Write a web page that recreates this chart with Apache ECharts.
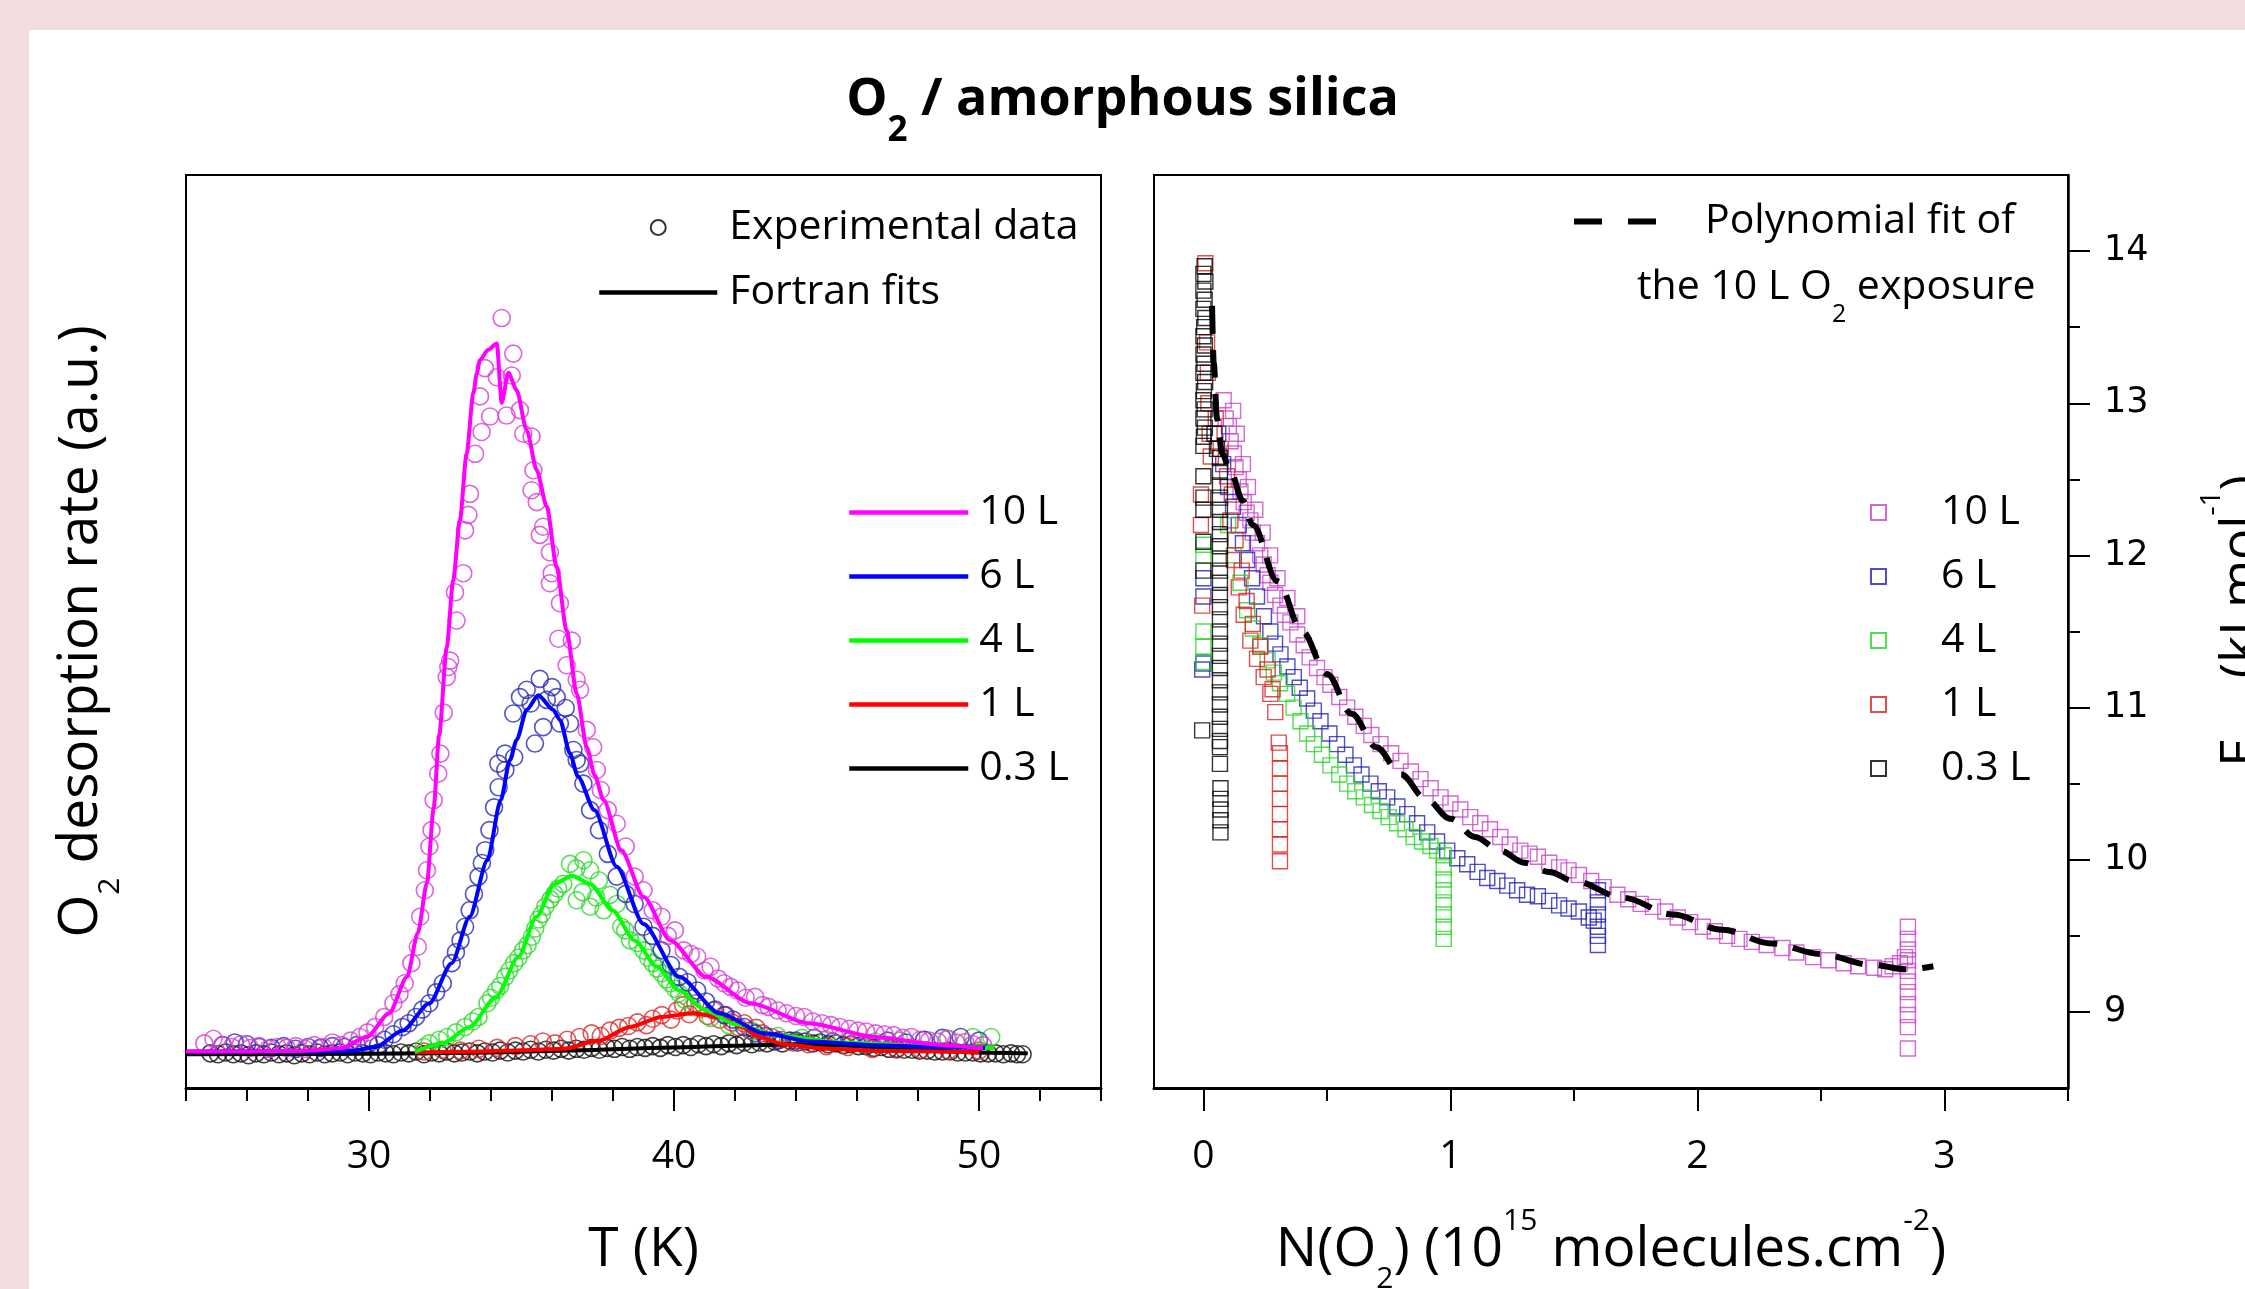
<!DOCTYPE html>
<html>
<head>
<meta charset="utf-8">
<script src="https://cdn.jsdelivr.net/npm/echarts@6.0.0/dist/echarts.min.js"></script>
<style>
  html, body { margin: 0; padding: 0; background: #f2dede; }
  #chart { width: 2245px; height: 1289px; }
</style>
</head>
<body>
<div id="chart"></div>
<script>
// ---- left panel: TPD traces, T (K) vs desorption rate (a.u., baseline = 0)
const fit10 = [[24.0,0.3],[26,0.3],[28,0.4],[29.05,0.65],[29.93,1.9],[30.66,4.5],[31.25,8.5],[31.6,13.3],[31.9,18.8],[32.12,27.0],[32.3,35.0],[32.55,44.7],[32.76,52],[32.98,58.6],[33.2,65.9],[33.42,72.5],[33.53,74.7],[33.64,76.2],[33.9,77.3],[34.19,78.0],[34.35,71.5],[34.57,74.8],[34.84,72.9],[35.17,68.5],[35.5,64.1],[35.83,60.1],[36.15,53.5],[36.48,46.5],[36.81,39.6],[37.14,33.7],[37.4,30.6],[37.69,27.9],[38.27,22.4],[39.0,17.3],[39.88,12.5],[41.05,8.5],[42.51,5.6],[44.42,3.4],[46.6,1.9],[48.8,1.0],[50.13,0.65]];
const fit6 = [[24.0,0.3],[28,0.3],[29.5,0.4],[30.22,0.8],[31.1,2.6],[31.98,5.6],[32.71,10],[33.3,15.1],[33.88,21.3],[34.32,27.9],[34.62,32.3],[34.84,34.5],[35.17,37.8],[35.55,39.4],[36.04,37.8],[36.26,36.7],[36.59,33],[36.85,30.5],[37.39,26.8],[38.12,20.6],[39.0,14.3],[40.17,8.5],[41.49,4.5],[42.95,2.3],[44.5,1.4],[46.5,1.0],[48.5,0.8],[50.2,0.7]];
const fit4 = [[31.5,0.25],[32.42,1.2],[33.3,3.0],[34.17,6.3],[34.9,10.7],[35.49,15.1],[36.08,18.7],[36.66,19.6],[37.25,18.7],[37.98,15.8],[38.71,12.5],[39.44,9.6],[40.17,7.0],[41.0,4.9],[42,3.3],[43.5,2.0],[45.5,1.3],[48,0.9],[50.5,0.7]];
const fit1 = [[31.5,0.2],[33.6,0.3],[35.0,0.45],[36.37,0.6],[37.54,1.5],[38.56,3.0],[39.59,4.1],[40.61,4.5],[41.49,4.1],[42.22,3.0],[42.8,1.9],[43.6,1.1],[45,0.6],[47,0.35],[50,0.2]];
const fit03 = [[24.0,0],[30,0.05],[34,0.2],[37,0.45],[40,0.75],[42,0.95],[44,1.1],[45.5,1.0],[47,0.7],[48.5,0.4],[50,0.2],[51.6,0.1]];

const exp10 = [[24.6,1.2],[24.9,1.7],[25.2,1.0],[25.5,0.8],[25.8,1.1],[26.1,0.7],[26.4,0.9],[26.7,0.6],[27.0,0.8],[27.3,0.7],[27.6,0.9],[27.9,0.6],[28.2,1.0],[28.5,0.8],[28.8,1.3],[29.1,1.0],[29.4,1.5],[29.7,1.9],[29.95,2.4],
  [30.2,3.0],[30.5,4.1],[30.8,5.6],[31.0,6.6],[31.17,7.8],[31.39,10],[31.6,11.8],[31.68,15.1],[31.83,18],[31.9,20.2],[31.98,22.8],[32.05,24.6],[32.12,27.9],[32.27,30.8],[32.34,33],[32.45,37.5],[32.55,41.4],[32.6,42.5],[32.66,43.2],[32.87,47.6],[32.82,50.7],[33.09,52.8],[33.15,57.5],[33.26,59.2],[33.31,61.5],[33.48,65.9],[33.69,68.3],[33.64,72.2],[33.97,70],[33.8,75.3],[34.19,74.3],[34.35,80.8],[34.73,76.9],[34.68,74.5],[34.51,70.1],[34.95,70.7],[35.06,68.1],[35.33,67.8],[35.39,64.1],[35.33,61.9],[35.5,60.6],[35.71,57.9],[35.6,57],[35.93,55.1],[35.99,52.8],[35.93,51.7],[36.26,49.5],[36.21,45.6],[36.65,45.4],[36.48,42.7],[36.81,41.1],[36.92,40],[37.14,35.6],[37.35,33.7],[37.47,31.2],
  [37.6,29.0],[37.83,26.8],[38.12,25.3],[38.42,22.8],[38.71,19.5],[39.0,18.0],[39.3,15.8],[39.59,15.1],[39.8,13.0],[40.03,13.6],[40.32,11.4],[40.55,11.0],[40.76,10.7],[41.0,9.2],[41.2,9.6],[41.45,8.3],[41.64,7.8],[41.85,7.4],[42.08,7.0],[42.35,6.2],[42.66,6.3],[42.9,5.4],[43.1,5.2],[43.4,4.8],[43.69,4.5],[44.0,4.2],[44.27,4.1],[44.55,3.6],[44.86,3.4],[45.15,3.2],[45.44,3.0],[45.75,2.8],[46.03,2.6],[46.3,2.5],[46.61,2.3],[46.9,2.2],[47.2,2.1],[47.5,1.8],[47.78,1.9],[48.07,1.6],[48.37,1.5],[48.65,1.4],[48.95,1.7],[49.25,1.3],[49.54,1.35],[49.8,1.1],[50.13,1.0]];
const exp6 = [[25.2,1.0],[25.6,1.3],[26.0,1.1],[26.4,0.8],[26.8,0.7],[27.2,0.9],[27.6,0.6],[28.0,0.8],[28.4,0.7],[28.8,0.9],[29.2,0.8],[29.6,1.0],[30.0,1.2],[30.3,1.0],[30.51,1.6],[30.8,2.2],[31.1,3.0],[31.3,3.4],[31.54,4.1],[31.75,4.9],[31.98,5.6],[32.2,6.8],[32.42,7.8],[32.71,10],[32.85,11.2],[33.0,12.5],[33.15,14.0],[33.3,15.8],[33.44,17.6],[33.59,19.5],[33.7,21.0],[33.81,22.4],[33.95,24.6],[34.1,27.1],[34.25,29.3],[34.24,31.9],[34.47,31.2],[34.46,33],[34.76,32.6],[34.73,37.4],[34.95,39.2],[35.17,40],[35.6,41.2],[35.44,34.1],[35.3,38.5],[35.71,35.9],[35.83,38.9],[36.15,39.2],[36.0,40.3],[36.26,36.3],[36.59,36.3],[36.45,38.0],[36.7,33.4],[36.92,31.9],[36.81,32.3],[37.03,29.7],[37.25,26.8],[37.54,24.6],[37.83,22],[38.12,19.5],[38.42,17.6],[38.71,16.5],[39.0,14],[39.3,13],[39.59,11.4],[39.9,9.8],[40.17,8.5],[40.45,7.9],[40.76,7.0],[41.05,5.8],[41.35,4.9],[41.65,4.3],[41.93,3.8],[42.3,3.0],[42.66,2.3],[43.0,2.0],[43.4,1.5],[44.0,1.5],[44.6,1.8],[45.2,1.4],[45.8,1.6],[46.4,1.2],[47.0,1.5],[47.6,1.3],[48.2,1.6],[48.8,1.8],[49.4,1.9],[50.0,1.5]];
const exp4 = [[31.8,0.8],[31.98,1.2],[32.3,1.6],[32.56,1.9],[32.85,2.4],[33.15,3.0],[33.4,3.6],[33.59,4.1],[33.88,5.6],[34.0,6.2],[34.17,7.0],[34.3,7.5],[34.47,8.5],[34.6,9.2],[34.76,10],[34.9,10.6],[35.05,11.4],[35.2,12.0],[35.34,12.9],[35.45,13.8],[35.56,14.8],[35.67,15.4],[35.78,16.2],[35.95,17.0],[36.08,17.6],[36.2,18.2],[36.37,18.7],[36.59,20.9],[36.8,20.4],[37.03,21.3],[37.25,20.2],[37.54,19.1],[36.81,16.9],[37.0,17.8],[37.25,16.2],[37.45,17.2],[37.69,15.8],[37.9,17.5],[38.12,16.5],[38.27,14],[38.4,13.6],[38.56,12.5],[38.8,12.2],[39.0,11.4],[39.15,10.6],[39.3,10],[39.45,9.4],[39.59,8.9],[39.75,8.2],[39.88,7.8],[40.03,7.2],[40.17,6.7],[40.35,6.0],[40.6,5.2],[41.2,4.0],[41.8,3.2],[42.6,2.5],[43.4,2.0],[44.2,1.8],[45.0,1.6],[45.8,1.5],[46.6,1.4],[47.4,1.5],[48.2,1.6],[49.0,1.7],[49.8,1.9],[50.4,1.9]];
const exp1 = [[31.8,0.3],[32.4,0.5],[33.0,0.4],[33.6,0.6],[34.2,0.7],[34.8,0.9],[35.3,1.1],[35.7,1.4],[36.1,1.2],[36.5,1.6],[36.9,1.9],[37.3,2.3],[37.6,2.0],[37.9,2.6],[38.2,2.9],[38.5,3.1],[38.8,3.5],[39.1,3.2],[39.3,3.9],[39.6,4.3],[39.9,3.8],[40.1,4.8],[40.3,5.4],[40.5,4.4],[40.7,5.6],[40.9,5.0],[41.1,4.2],[41.3,4.8],[41.5,3.8],[41.7,4.3],[41.9,3.5],[42.1,3.0],[42.3,3.4],[42.5,2.6],[42.7,2.9],[42.9,2.3],[43.2,1.9],[43.5,1.6],[43.9,1.3],[44.4,1.1],[45.0,0.9],[45.7,0.8],[46.5,0.6],[47.3,0.5],[48.1,0.5],[49.0,0.4],[50.0,0.4]];
const exp03 = [[24.8,0.1],[25.05,0.0],[25.3,0.2],[25.55,0.0],[25.8,0.1],[26.05,-0.1],[26.3,0.1],[26.55,0.0],[26.8,0.2],[27.05,0.0],[27.3,0.1],[27.55,-0.1],[27.8,0.1],[28.05,0.0],[28.3,0.2],[28.55,0.0],[28.8,0.1],[29.05,0.2],[29.3,0.0],[29.55,0.2],[29.8,0.1],[30.05,0.0],[30.3,0.2],[30.55,0.1],[30.8,0.0],[31.05,0.2],[31.3,0.1],[31.55,0.3],[31.8,0.0],[32.05,0.2],[32.3,0.1],[32.55,0.3],[32.8,0.1],[33.05,0.2],[33.3,0.3],[33.55,0.1],[33.8,0.3],[34.05,0.2],[34.3,0.4],[34.55,0.2],[34.8,0.4],[35.05,0.3],[35.3,0.5],[35.55,0.3],[35.8,0.5],[36.05,0.4],[36.3,0.6],[36.55,0.4],[36.8,0.6],[37.05,0.5],[37.3,0.7],[37.55,0.5],[37.8,0.7],[38.05,0.6],[38.3,0.8],[38.55,0.6],[38.8,0.8],[39.05,0.7],[39.3,0.9],[39.55,0.7],[39.8,1.0],[40.05,0.8],[40.3,1.0],[40.55,0.8],[40.8,1.1],[41.05,0.9],[41.3,1.1],[41.55,0.9],[41.8,1.2],[42.05,1.0],[42.3,1.3],[42.55,1.1],[42.8,1.3],[43.05,1.2],[43.3,1.4],[43.55,1.2],[43.8,1.5],[44.05,1.3],[44.3,1.4],[44.55,1.2],[44.8,1.3],[45.05,1.1],[45.3,1.2],[45.55,1.0],[45.8,1.1],[46.05,0.9],[46.3,0.9],[46.55,0.7],[46.8,0.8],[47.05,0.6],[47.3,0.6],[47.55,0.5],[47.8,0.5],[48.05,0.4],[48.3,0.4],[48.55,0.3],[48.8,0.3],[49.05,0.3],[49.3,0.2],[49.55,0.2],[49.8,0.2],[50.05,0.1],[50.3,0.1],[50.55,0.1],[50.8,0.0],[51.05,0.1],[51.25,0.0],[51.43,0.0]];

// ---- right panel: N(O2) (1e15 molecules/cm2) vs desorption energy (kJ/mol)
const sq10 = [[0.082,13.02],[0.09,12.9],[0.103,12.85],[0.11,12.75],[0.123,12.67],[0.13,12.58],[0.143,12.5],[0.15,12.42],[0.163,12.35],[0.175,12.28],[0.19,12.23],[0.2,12.15],[0.217,12.08],[0.23,12.0],[0.244,11.94],[0.26,11.87],[0.271,11.82],[0.29,11.74],[0.312,11.67],[0.33,11.61],[0.352,11.56],[0.38,11.48],[0.406,11.41],[0.43,11.33],[0.46,11.26],[0.49,11.2],[0.514,11.15],[0.55,11.07],[0.582,11.0],[0.615,10.94],[0.649,10.88],[0.68,10.82],[0.717,10.76],[0.76,10.7],[0.798,10.65],[0.84,10.58],[0.879,10.53],[0.92,10.47],[0.96,10.41],[1.0,10.37],[1.04,10.33],[1.08,10.28],[1.121,10.24],[1.16,10.2],[1.202,10.15],[1.24,10.1],[1.283,10.06],[1.32,10.04],[1.354,10.02],[1.4,9.98],[1.44,9.95],[1.478,9.93],[1.52,9.9],[1.57,9.86],[1.62,9.82],[1.676,9.77],[1.72,9.74],[1.77,9.71],[1.82,9.69],[1.87,9.66],[1.92,9.62],[1.97,9.59],[2.022,9.56],[2.07,9.53],[2.12,9.5],[2.17,9.48],[2.22,9.46],[2.28,9.44],[2.344,9.42],[2.4,9.39],[2.468,9.36],[2.53,9.34],[2.592,9.32],[2.65,9.3],[2.715,9.29],[2.76,9.28],[2.79,9.3],[2.82,9.32],[2.84,9.36],
  [2.852,9.56],[2.852,9.48],[2.852,9.41],[2.852,9.34],[2.852,9.27],[2.852,9.2],[2.852,9.13],[2.852,9.05],[2.852,8.98],[2.852,8.9],[2.852,8.76],
  [0.12,12.95],[0.135,12.8],[0.16,12.6],[0.18,12.45],[0.21,12.3],[0.24,12.15],[0.27,12.0],[0.3,11.85],[0.34,11.72],[0.38,11.6]];
const sq6 = [[0.0,11.85],[0.0,11.73],[0.0,11.29],[-0.005,11.25],
  [0.06,12.8],[0.08,12.6],[0.1,12.45],[0.12,12.32],[0.143,12.2],[0.16,12.08],[0.177,11.97],[0.197,11.85],[0.217,11.73],[0.245,11.6],[0.271,11.5],[0.29,11.42],[0.312,11.35],[0.34,11.27],[0.366,11.2],[0.39,11.13],[0.42,11.06],[0.447,10.98],[0.474,10.91],[0.51,10.83],[0.541,10.76],[0.575,10.69],[0.609,10.62],[0.64,10.56],[0.676,10.5],[0.71,10.45],[0.744,10.41],[0.785,10.35],[0.825,10.3],[0.865,10.24],[0.906,10.18],[0.946,10.12],[0.987,10.06],[1.028,10.01],[1.068,9.97],[1.11,9.92],[1.149,9.88],[1.19,9.86],[1.23,9.83],[1.27,9.8],[1.31,9.77],[1.354,9.76],[1.4,9.73],[1.44,9.7],[1.478,9.68],[1.52,9.66],[1.56,9.62],[1.58,9.6],
  [1.597,9.8],[1.597,9.72],[1.597,9.64],[1.597,9.56],[1.597,9.5],[1.597,9.44]];
const sq4 = [[0.0,12.07],[0.0,12.0],[0.0,11.5],[0.0,11.4],[0.0,11.3],
  [0.1,12.2],[0.123,12.0],[0.15,11.82],[0.177,11.64],[0.2,11.52],[0.231,11.41],[0.26,11.31],[0.285,11.23],[0.31,11.16],[0.339,11.09],[0.365,11.0],[0.393,10.91],[0.42,10.83],[0.447,10.76],[0.48,10.69],[0.514,10.62],[0.55,10.56],[0.582,10.5],[0.615,10.45],[0.649,10.41],[0.683,10.36],[0.717,10.32],[0.75,10.28],[0.784,10.24],[0.818,10.2],[0.851,10.15],[0.885,10.12],[0.919,10.09],[0.946,10.06],[0.973,10.03],
  [0.973,9.95],[0.973,9.87],[0.973,9.8],[0.973,9.72],[0.973,9.64],[0.973,9.56],[0.973,9.48]];
const sq1 = [[0.008,13.92],[0.015,13.4],[0.018,13.2],[0.02,13.0],[0.025,12.8],[0.03,12.65],[-0.01,12.4],[-0.01,12.2],[-0.005,11.67],
  [0.05,12.9],[0.07,12.7],[0.096,12.52],[0.109,12.23],[0.123,11.97],[0.143,11.79],[0.163,11.61],[0.19,11.44],[0.217,11.32],[0.244,11.2],[0.271,11.09],[0.291,10.97],[0.305,10.77],
  [0.115,12.4],[0.13,12.1],[0.155,11.9],[0.175,11.7],[0.2,11.55],[0.23,11.4],[0.26,11.25],[0.28,11.12],
  [0.31,10.7],[0.31,10.6],[0.31,10.5],[0.31,10.4],[0.31,10.3],[0.31,10.2],[0.31,10.1],[0.31,9.99]];
const sq03 = [[0.005,13.9],[0.0,13.85],[0.008,13.8],[0.0,13.74],[0.005,13.68],[0.0,13.62],[0.008,13.56],[0.003,13.5],[0.0,13.44],[0.006,13.38],[0.0,13.32],[0.004,13.26],[0.0,13.2],[0.007,13.14],[0.002,13.08],[0.0,13.02],[0.005,12.96],[0.0,12.9],[0.006,12.84],[0.002,12.78],[0.0,12.72],[0.0,12.52],[0.0,12.38],[0.0,12.3],[0.0,12.09],[0.0,11.9],[-0.005,10.85],
  [0.045,12.8],[0.055,12.7],[0.067,12.64],[0.067,12.55],[0.067,12.46],[0.067,12.38],[0.067,12.3],[0.067,12.22],[0.067,12.14],[0.067,12.06],[0.067,11.98],[0.067,11.9],[0.067,11.82],[0.067,11.74],[0.067,11.66],[0.067,11.58],[0.067,11.5],[0.067,11.42],[0.067,11.34],[0.067,11.26],[0.067,11.18],[0.067,11.1],[0.067,11.02],[0.067,10.94],[0.067,10.86],[0.067,10.78],[0.067,10.74],[0.067,10.63],[0.069,10.47],[0.069,10.4],[0.069,10.33],[0.069,10.26],[0.069,10.18]];
const polyFit = [[0.035,13.64],[0.042,13.26],[0.055,12.9],[0.076,12.67],[0.109,12.55],[0.16,12.36],[0.2,12.2],[0.3,11.83],[0.4,11.5],[0.5,11.22],[0.6,10.96],[0.7,10.74],[0.8,10.56],[0.9,10.4],[1.0,10.27],[1.1,10.15],[1.2,10.06],[1.3,9.98],[1.4,9.92],[1.5,9.86],[1.7,9.75],[1.9,9.64],[2.1,9.54],[2.3,9.45],[2.5,9.38],[2.7,9.31],[2.85,9.28],[2.955,9.3]];

// ticks
const tTicksMajor = [30, 40, 50];
const tTicksMinor = [24, 26, 28, 32, 34, 36, 38, 42, 44, 46, 48, 52, 54];
const nTicksMajor = [0, 1, 2, 3];
const nTicksMinor = [0.5, 1.5, 2.5, 3.5];
const eTicksMajor = [9, 10, 11, 12, 13, 14];
const eTicksMinor = [9.5, 10.5, 11.5, 12.5, 13.5];

const exposures = ['10 L', '6 L', '4 L', '1 L', '0.3 L'];
const keys = ['10', '6', '4', '1', '03'];
const lineColors = ['#ff00ff', '#0000ff', '#00ff00', '#ff0000', '#000000'];
const ringColors = ['#d63fd6', '#2a2ab4', '#2fd82f', '#d82c2c', '#111111'];
const boxColors = ['#c943c9', '#2323b8', '#25d625', '#d82222', '#000000'];
const fits = [fit10, fit6, fit4, fit1, fit03];
const exps = [exp10, exp6, exp4, exp1, exp03];
const squares = [sq10, sq6, sq4, sq1, sq03];

const FONT = 'Open Sans';
const chart = echarts.init(document.getElementById('chart'));

const nameOf = {};
keys.forEach((k, i) => { nameOf['fit' + k] = exposures[i]; nameOf['sq' + k] = exposures[i]; });
nameOf['poly'] = 'Polynomial fit of';

const series = [
  { name: 'Experimental data', type: 'scatter', xAxisIndex: 0, yAxisIndex: 0, data: [],
    symbol: 'circle', itemStyle: { color: 'rgba(0,0,0,0)', borderColor: '#000', borderWidth: 1.5 } },
  { name: 'Fortran fits', type: 'line', xAxisIndex: 0, yAxisIndex: 0, data: [], symbol: 'none',
    itemStyle: { color: '#000' }, lineStyle: { color: '#000', width: 4 } }
];
// left: draw 0.3 L first, 10 L last
for (let i = 4; i >= 0; i--) {
  series.push({
    name: 'exp' + keys[i], type: 'scatter', xAxisIndex: 0, yAxisIndex: 0, data: exps[i],
    symbol: 'circle', symbolSize: 17,
    itemStyle: { color: 'rgba(0,0,0,0)', borderColor: ringColors[i], borderWidth: 1.6 }
  });
  series.push({
    name: 'fit' + keys[i], type: 'line', xAxisIndex: 0, yAxisIndex: 0, data: fits[i],
    symbol: 'none', smooth: 0.25, smoothMonotone: 'x',
    itemStyle: { color: lineColors[i] }, lineStyle: { color: lineColors[i], width: 4 }
  });
}
// right: 10 L first, 0.3 L on top
for (let i = 0; i < 5; i++) {
  series.push({
    name: 'sq' + keys[i], type: 'scatter', xAxisIndex: 2, yAxisIndex: 1, data: squares[i],
    symbol: 'rect', symbolSize: 15,
    itemStyle: { color: 'rgba(0,0,0,0)', borderColor: boxColors[i], borderWidth: 1.4 }
  });
}
series.push({
  name: 'poly', type: 'line', xAxisIndex: 2, yAxisIndex: 1, data: polyFit,
  symbol: 'none', smooth: 0.35, smoothMonotone: 'x',
  itemStyle: { color: '#000' }, lineStyle: { color: '#000', width: 6, type: [28, 16] }
});

const subRich = (fs, lh) => ({ fontSize: fs, lineHeight: lh, verticalAlign: 'bottom', fontFamily: FONT, color: '#000' });
const supRich = (fs, lh) => ({ fontSize: fs, lineHeight: lh, verticalAlign: 'top', fontFamily: FONT, color: '#000' });

const axisNameStyle = {
  fontSize: 55, fontFamily: FONT, color: '#000', lineHeight: 88,
  rich: { sub: subRich(30, 30), sup: supRich(30, 30) }
};
const hideSymbol = { opacity: 0 };
const legendLine = { width: 4.5 };

const option = {
  animation: false,
  backgroundColor: '#f2dede',
  textStyle: { fontFamily: FONT, color: '#000' },
  title: {
    text: 'O{s|2} / amorphous silica', left: 'center', top: 52, padding: 0,
    textStyle: {
      fontSize: 52, fontWeight: 'bold', fontFamily: FONT, color: '#000', lineHeight: 97,
      rich: { s: { fontSize: 35, fontWeight: 'bold', lineHeight: 35, verticalAlign: 'bottom', fontFamily: FONT, color: '#000' } }
    }
  },
  grid: [
    { left: 186, top: 175, width: 915, height: 913, show: true, borderColor: '#000', borderWidth: 2, backgroundColor: 'rgba(0,0,0,0)', containLabel: false, outerBoundsMode: 'none' },
    { left: 1154, top: 175, width: 914, height: 913, show: true, borderColor: '#000', borderWidth: 2, backgroundColor: 'rgba(0,0,0,0)', containLabel: false, outerBoundsMode: 'none' }
  ],
  xAxis: [
    { gridIndex: 0, type: 'value', min: 24, max: 54, position: 'bottom',
      axisLine: { show: true, onZero: false, lineStyle: { color: '#000', width: 3 } },
      axisTick: { show: true, customValues: tTicksMajor, length: 23, lineStyle: { color: '#000', width: 2 } },
      axisLabel: { customValues: tTicksMajor, margin: 49, fontSize: 39, fontFamily: FONT, color: '#000' },
      splitLine: { show: false },
      name: 'T (K)', nameLocation: 'middle', nameGap: 118, nameTextStyle: axisNameStyle },
    { gridIndex: 0, type: 'value', min: 24, max: 54, position: 'bottom',
      axisLine: { show: false, onZero: false },
      axisTick: { show: true, customValues: tTicksMinor, length: 13, lineStyle: { color: '#000', width: 2 } },
      axisLabel: { show: false }, splitLine: { show: false } },
    { gridIndex: 1, type: 'value', min: -0.2, max: 3.5, position: 'bottom',
      axisLine: { show: true, onZero: false, lineStyle: { color: '#000', width: 3 } },
      axisTick: { show: true, customValues: nTicksMajor, length: 23, lineStyle: { color: '#000', width: 2 } },
      axisLabel: { customValues: nTicksMajor, margin: 49, fontSize: 39, fontFamily: FONT, color: '#000' },
      splitLine: { show: false },
      name: 'N(O{sub|2}) (10{sup|15} molecules.cm{sup|-2})', nameLocation: 'middle', nameGap: 118, nameTextStyle: axisNameStyle },
    { gridIndex: 1, type: 'value', min: -0.2, max: 3.5, position: 'bottom',
      axisLine: { show: false, onZero: false },
      axisTick: { show: true, customValues: nTicksMinor, length: 13, lineStyle: { color: '#000', width: 2 } },
      axisLabel: { show: false }, splitLine: { show: false } }
  ],
  yAxis: [
    { gridIndex: 0, type: 'value', min: -3.7, max: 96.5,
      axisLine: { show: false }, axisTick: { show: false }, axisLabel: { show: false }, splitLine: { show: false },
      name: 'O{sub|2} desorption rate (a.u.)', nameLocation: 'middle', nameGap: 61, nameTextStyle: axisNameStyle },
    { gridIndex: 1, type: 'value', min: 8.5, max: 14.5, position: 'right',
      axisLine: { show: true, onZero: false, lineStyle: { color: '#000', width: 2.5 } },
      axisTick: { show: true, customValues: eTicksMajor, length: 22, lineStyle: { color: '#000', width: 2 } },
      axisLabel: { customValues: eTicksMajor, margin: 36, fontSize: 35, fontFamily: 'DejaVu Sans', color: '#000' },
      splitLine: { show: false } },
    { gridIndex: 1, type: 'value', min: 8.5, max: 14.5, position: 'right',
      axisLine: { show: false, onZero: false },
      axisTick: { show: true, customValues: eTicksMinor, length: 12, lineStyle: { color: '#000', width: 2 } },
      axisLabel: { show: false }, splitLine: { show: false } }
  ],
  legend: [
    { orient: 'vertical', left: 597, top: 207, padding: 0, itemWidth: 118, itemHeight: 15, itemGap: 24,
      selectedMode: false,
      data: [{ name: 'Experimental data' }, { name: 'Fortran fits', itemStyle: hideSymbol, lineStyle: legendLine }],
      textStyle: { fontSize: 41, fontFamily: FONT, color: '#000', padding: [0, 0, 0, 7] } },
    { orient: 'vertical', left: 847, top: 492, padding: 0, itemWidth: 119, itemHeight: 14, itemGap: 23,
      selectedMode: false, itemStyle: hideSymbol, lineStyle: legendLine,
      data: keys.map(k => ({ name: 'fit' + k, itemStyle: hideSymbol, lineStyle: legendLine })), formatter: n => nameOf[n],
      textStyle: { fontSize: 41, fontFamily: FONT, color: '#000', padding: [0, 0, 0, 6] } },
    { orient: 'vertical', left: 1571, top: 201, padding: 0, itemWidth: 82, itemHeight: 14,
      selectedMode: false, itemStyle: hideSymbol,
      data: [{ name: 'poly', itemStyle: hideSymbol, lineStyle: { type: [28, 26], width: 6 } }], formatter: n => nameOf[n],
      textStyle: { fontSize: 41, fontFamily: FONT, color: '#000', padding: [0, 0, 0, 44] } },
    { orient: 'vertical', left: 1870, top: 492, padding: 0, itemWidth: 15, itemHeight: 15, itemGap: 23,
      selectedMode: false, data: keys.map(k => 'sq' + k), formatter: n => nameOf[n],
      textStyle: { fontSize: 41, fontFamily: FONT, color: '#000', padding: [0, 0, 0, 50] } }
  ],
  graphic: [
    { type: 'rect', z: -10, shape: { x: 29, y: 30, width: 2216, height: 1259 }, style: { fill: '#ffffff' }, silent: true },
    { type: 'text', x: 1637, y: 247, z: 10, silent: true,
      style: { text: 'the 10 L O{s|2} exposure', fontSize: 41, fontFamily: FONT, fill: '#000', lineHeight: 80,
        textVerticalAlign: 'top',
        rich: { s: { fontSize: 25, lineHeight: 25, verticalAlign: 'bottom', fontFamily: FONT, fill: '#000' } } } },
    { type: 'text', x: 2198, y: 621, rotation: Math.PI / 2, z: 10, silent: true,
      style: { text: 'E{s|des} (kJ mol{p|-1})', fontSize: 52, fontFamily: FONT, fill: '#000', lineHeight: 88,
        textAlign: 'center', textVerticalAlign: 'top',
        rich: { s: { fontSize: 28, lineHeight: 28, verticalAlign: 'bottom', fontFamily: FONT, fill: '#000' },
                p: { fontSize: 28, lineHeight: 28, verticalAlign: 'top', fontFamily: FONT, fill: '#000' } } } }
  ],
  series: series
};

chart.setOption(option);
</script>
</body>
</html>
